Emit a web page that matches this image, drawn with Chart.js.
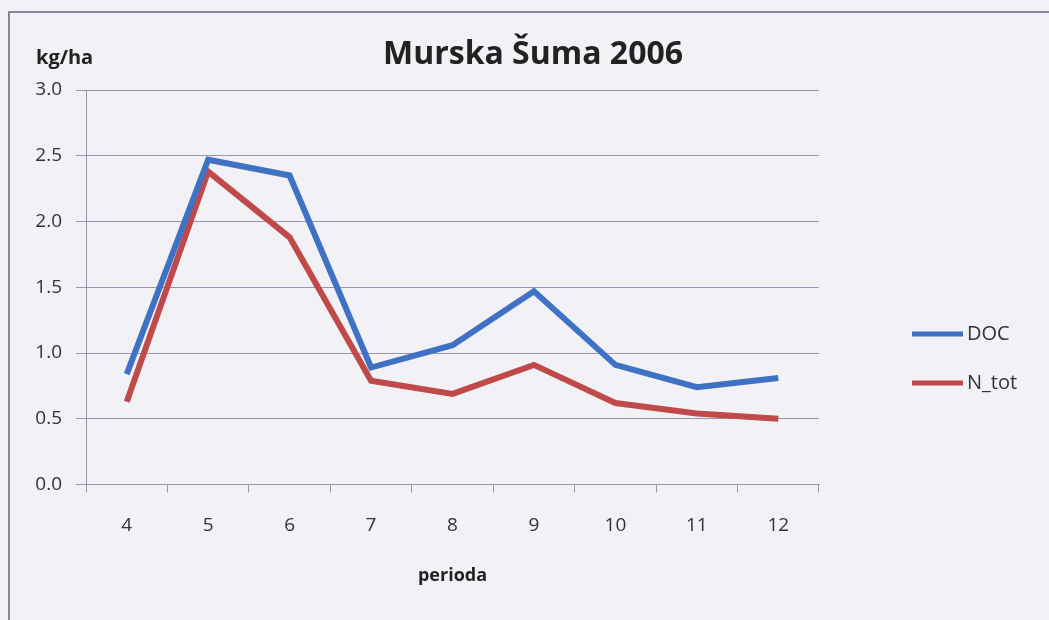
<!DOCTYPE html>
<html>
<head>
<meta charset="utf-8">
<script src="https://cdn.jsdelivr.net/npm/chart.js@4/dist/chart.umd.min.js"></script>
<style>
    html, body { margin: 0; padding: 0; background: #f1f1f6; }
    #wrap { position: relative; width: 1049px; height: 620px; overflow: hidden; }
    #frame { position: absolute; left: 8px; top: 11px; width: 1100px; height: 700px;
             border-left: 2px solid #8c82a0; border-top: 2px solid #8c82a0; }
    canvas { position: absolute; left: 0; top: 0; }
</style>
</head>
<body>
<div id="wrap">
    <div id="frame"></div>
    <canvas id="chart" width="1049" height="620"></canvas>
</div>
<script>
// Data
const periods = ['4', '5', '6', '7', '8', '9', '10', '11', '12'];
const docValues = [0.84, 2.47, 2.35, 0.89, 1.06, 1.47, 0.91, 0.74, 0.81];
const ntotValues = [0.63, 2.38, 1.88, 0.79, 0.69, 0.91, 0.62, 0.54, 0.50];
const yTicks = [0, 0.5, 1.0, 1.5, 2.0, 2.5, 3.0];
const chartTitle = 'Murska Šuma 2006';

const FONT = "'Open Sans', sans-serif";
const gridColor = '#9d93ad';

// title, unit label above y axis and legend at the right
const extras = {
    id: 'extras',
    afterDraw(chart) {
        const ctx = chart.ctx;
        ctx.save();
        ctx.fillStyle = '#222';
        ctx.textBaseline = 'middle';
        ctx.textAlign = 'center';
        ctx.font = 'bold 32px ' + FONT;
        ctx.fillText(chartTitle, 533, 55);

        ctx.textAlign = 'left';
        ctx.font = 'bold 20px ' + FONT;
        ctx.fillText('kg/ha', 36, 58);

        // legend
        const ys = [334, 383];
        ctx.font = '20px ' + FONT;
        chart.data.datasets.forEach((ds, i) => {
            ctx.strokeStyle = ds.borderColor;
            ctx.lineWidth = 5;
            ctx.beginPath();
            ctx.moveTo(912, ys[i]);
            ctx.lineTo(963, ys[i]);
            ctx.stroke();
            ctx.fillStyle = '#333';
            ctx.fillText(ds.label, 967, ys[i]);
        });
        ctx.restore();
    }
};

new Chart(document.getElementById('chart'), {
    type: 'line',
    data: {
        labels: periods,
        datasets: [
            { label: 'DOC', data: docValues, borderColor: '#3f72c4', backgroundColor: '#3f72c4',
              borderWidth: 6, pointRadius: 0, tension: 0 },
            { label: 'N_tot', data: ntotValues, borderColor: '#c0494a', backgroundColor: '#c0494a',
              borderWidth: 6, pointRadius: 0, tension: 0 }
        ]
    },
    options: {
        responsive: false,
        animation: false,
        layout: { padding: { left: 8, top: 90, right: 230, bottom: 29 } },
        plugins: {
            legend: { display: false },
            tooltip: { enabled: false },
            title: { display: false }
        },
        scales: {
            x: {
                offset: true,
                grid: { offset: true, drawOnChartArea: false, drawTicks: true, tickLength: 8, color: gridColor },
                border: { color: gridColor, width: 1 },
                ticks: { color: '#333', padding: 22, font: { family: FONT, size: 19 } },
                title: {
                    display: true, text: 'perioda', color: '#222',
                    font: { family: FONT, size: 18, weight: 'bold', lineHeight: 1.2 },
                    padding: { top: 6, bottom: 4 }
                }
            },
            y: {
                min: 0, max: 3,
                afterBuildTicks: (scale) => { scale.ticks = yTicks.map(v => ({ value: v })); },
                afterFit: (scale) => { scale.width = 78; },
                grid: { color: gridColor, tickLength: 10 },
                border: { color: gridColor, width: 1 },
                ticks: {
                    color: '#333', padding: 14,
                    font: { family: FONT, size: 19 },
                    callback: (v) => Number(v).toFixed(1)
                }
            }
        }
    },
    plugins: [extras]
});
</script>
</body>
</html>
